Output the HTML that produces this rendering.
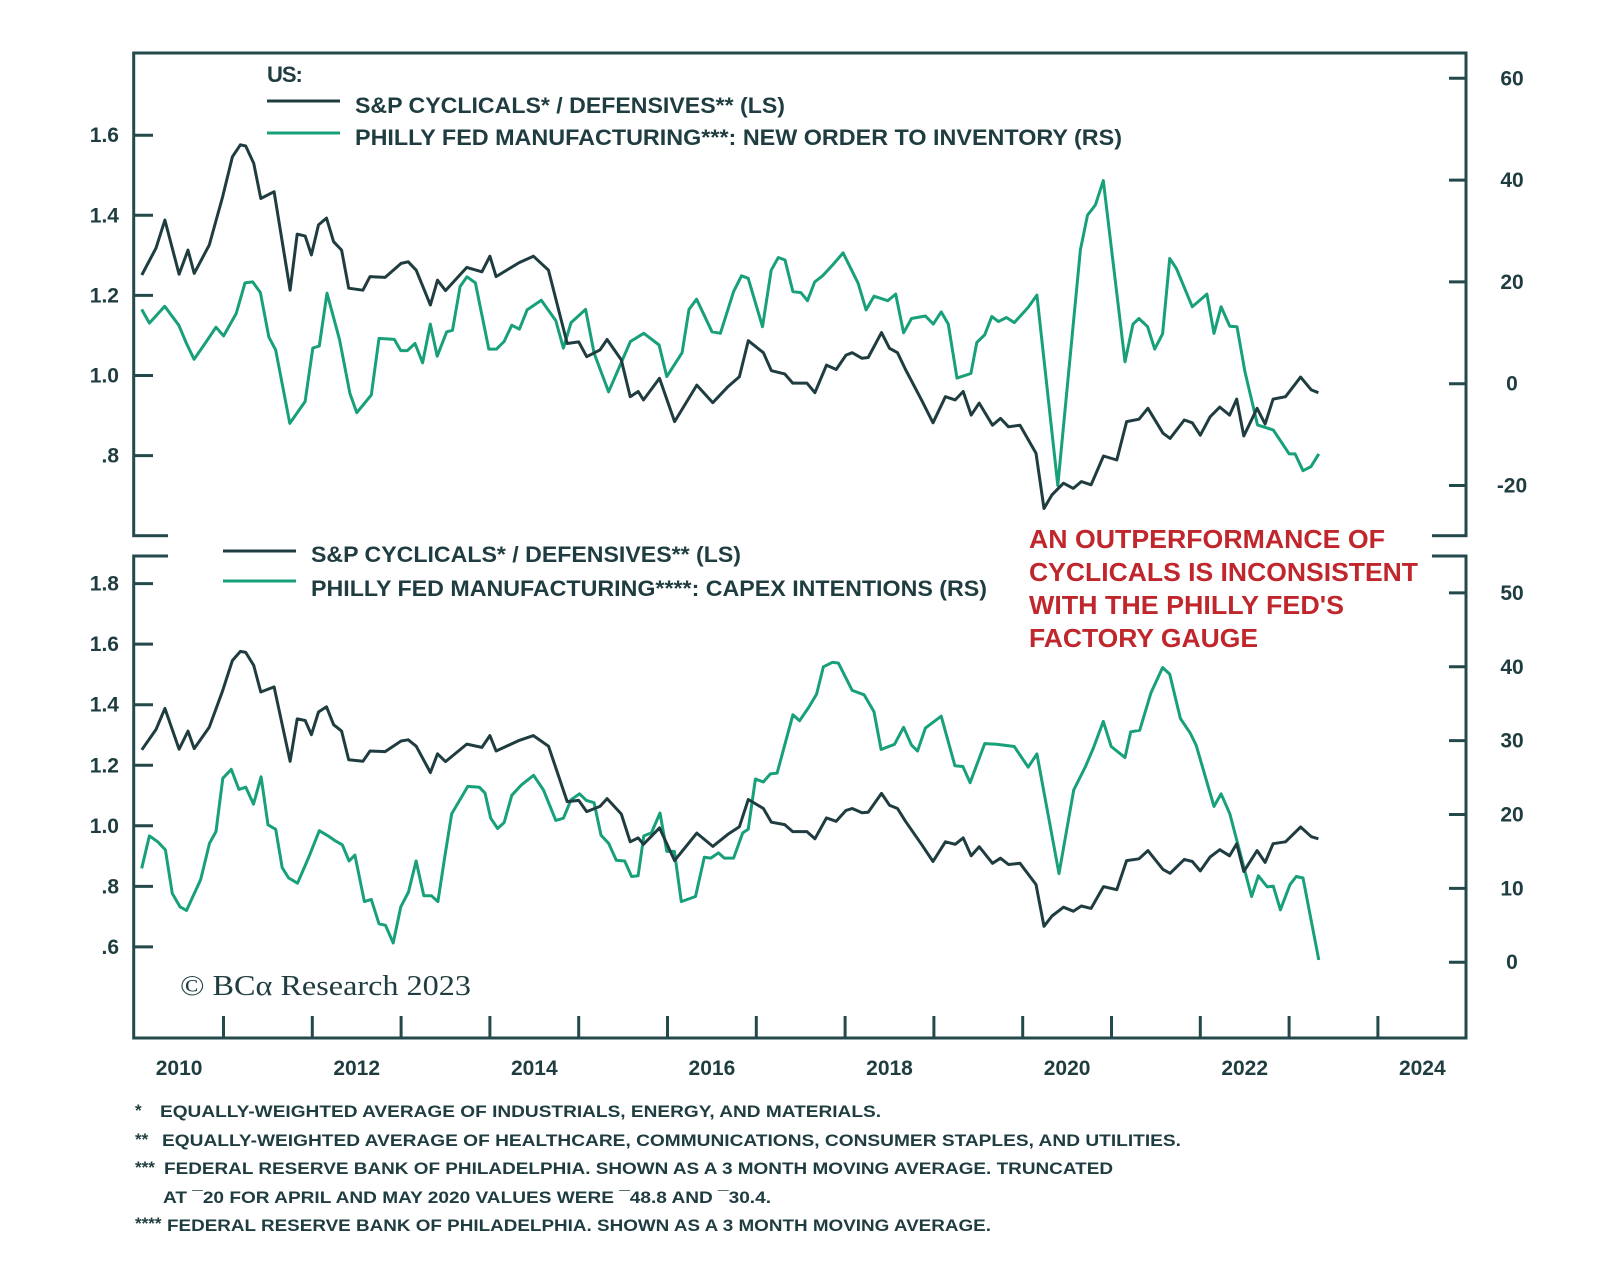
<!DOCTYPE html>
<html><head><meta charset="utf-8"><style>
html,body{margin:0;padding:0;background:#fff;}
svg{display:block;font-family:"Liberation Sans",sans-serif;}
</style></head><body>
<svg id="chart" width="1600" height="1268" viewBox="0 0 1600 1268" xmlns="http://www.w3.org/2000/svg"></svg>
<script>
// ---------- DATA ----------
const cycYears=[2010.08,2010.24,2010.34,2010.50,2010.60,2010.67,2010.84,2010.99,2011.10,2011.19,2011.25,2011.34,2011.42,2011.57,2011.75,2011.83,2011.92,2011.99,2012.07,2012.16,2012.24,2012.33,2012.41,2012.57,2012.65,2012.82,2013.00,2013.08,2013.17,2013.33,2013.41,2013.50,2013.74,2013.91,2014.00,2014.07,2014.33,2014.49,2014.66,2014.87,2015.00,2015.09,2015.24,2015.32,2015.48,2015.58,2015.67,2015.73,2015.91,2016.08,2016.33,2016.51,2016.68,2016.81,2016.91,2017.08,2017.17,2017.32,2017.41,2017.57,2017.66,2017.79,2017.90,2018.01,2018.08,2018.19,2018.26,2018.41,2018.50,2018.59,2018.68,2018.86,2018.99,2019.13,2019.24,2019.33,2019.42,2019.51,2019.66,2019.75,2019.84,2019.97,2020.15,2020.24,2020.33,2020.46,2020.57,2020.66,2020.77,2020.91,2021.06,2021.17,2021.31,2021.41,2021.58,2021.66,2021.82,2021.91,2022.00,2022.11,2022.22,2022.33,2022.41,2022.49,2022.64,2022.73,2022.82,2022.96,2023.13,2023.25,2023.33];
const cycValues=[1.251,1.318,1.388,1.253,1.313,1.255,1.326,1.446,1.546,1.576,1.573,1.530,1.442,1.459,1.213,1.353,1.348,1.301,1.376,1.393,1.334,1.313,1.218,1.213,1.247,1.245,1.280,1.284,1.263,1.176,1.238,1.212,1.270,1.259,1.298,1.247,1.282,1.298,1.263,1.080,1.084,1.047,1.064,1.090,1.039,0.947,0.960,0.939,0.993,0.885,0.976,0.932,0.972,0.997,1.087,1.057,1.012,1.004,0.981,0.981,0.957,1.026,1.015,1.051,1.057,1.043,1.045,1.107,1.068,1.057,1.015,0.939,0.882,0.947,0.939,0.960,0.901,0.931,0.876,0.893,0.872,0.876,0.806,0.668,0.702,0.731,0.718,0.735,0.727,0.799,0.789,0.885,0.891,0.918,0.856,0.843,0.889,0.882,0.851,0.897,0.921,0.901,0.941,0.849,0.918,0.879,0.941,0.947,0.996,0.964,0.957];

const noiYears=[2010.079,2010.166,2010.338,2010.497,2010.583,2010.669,2010.820,2010.916,2011.001,2011.143,2011.242,2011.329,2011.416,2011.510,2011.588,2011.747,2011.919,2012.006,2012.079,2012.166,2012.307,2012.423,2012.501,2012.664,2012.751,2012.923,2012.997,2013.070,2013.157,2013.242,2013.329,2013.407,2013.514,2013.579,2013.664,2013.742,2013.837,2013.988,2014.074,2014.160,2014.247,2014.332,2014.419,2014.579,2014.742,2014.828,2014.914,2015.078,2015.173,2015.337,2015.582,2015.733,2015.905,2015.992,2016.164,2016.242,2016.328,2016.501,2016.596,2016.744,2016.833,2016.909,2017.070,2017.168,2017.248,2017.323,2017.412,2017.501,2017.577,2017.658,2017.747,2017.858,2017.978,2018.148,2018.236,2018.325,2018.481,2018.570,2018.659,2018.748,2018.904,2018.993,2019.082,2019.162,2019.260,2019.417,2019.483,2019.572,2019.652,2019.727,2019.816,2019.905,2020.062,2020.160,2020.395,2020.650,2020.730,2020.819,2020.908,2021.152,2021.242,2021.309,2021.407,2021.486,2021.575,2021.655,2021.732,2021.910,2022.074,2022.154,2022.234,2022.332,2022.413,2022.502,2022.644,2022.822,2023.001,2023.068,2023.157,2023.245,2023.334];
const noiValues=[14.6,11.9,15.2,11.5,7.9,4.8,8.6,11.1,9.4,13.8,19.8,20.0,17.9,9.2,6.6,-7.8,-3.5,7.0,7.4,17.8,8.6,-1.9,-5.7,-2.2,8.9,8.7,6.5,6.5,7.9,4.1,11.7,5.4,10.2,10.5,19.1,21.0,19.8,6.8,6.8,8.3,11.5,10.7,14.5,16.4,12.4,7.0,12.0,14.6,6.0,-1.6,8.3,9.9,7.6,1.4,6.1,14.6,16.6,10.2,9.9,18.1,21.2,20.7,11.2,22.3,24.8,24.3,18.1,17.9,16.3,20.0,21.2,23.3,25.7,19.7,14.5,17.2,16.3,17.6,10.0,12.8,13.3,11.7,14.1,11.7,1.1,2.0,8.1,9.6,13.2,12.2,13.0,12.0,15.0,17.4,-20,26.3,33.1,35.1,39.9,4.3,11.7,12.8,11.2,6.8,9.8,24.6,22.6,15.1,17.6,9.9,15.1,11.3,11.2,2.4,-8.1,-9.1,-13.8,-13.8,-17.1,-16.3,-13.8];

const capexYears=[2010.079,2010.166,2010.260,2010.346,2010.423,2010.510,2010.583,2010.743,2010.842,2010.916,2010.992,2011.088,2011.173,2011.251,2011.338,2011.423,2011.501,2011.588,2011.661,2011.734,2011.833,2011.963,2012.079,2012.178,2012.264,2012.338,2012.414,2012.480,2012.587,2012.664,2012.751,2012.824,2012.911,2012.997,2013.083,2013.169,2013.256,2013.341,2013.414,2013.492,2013.570,2013.751,2013.881,2013.945,2014.009,2014.087,2014.160,2014.247,2014.355,2014.492,2014.604,2014.742,2014.828,2014.914,2015.009,2015.087,2015.173,2015.251,2015.337,2015.423,2015.518,2015.596,2015.669,2015.733,2015.819,2015.915,2015.992,2016.078,2016.155,2016.315,2016.414,2016.488,2016.574,2016.640,2016.744,2016.847,2016.909,2016.990,2017.079,2017.159,2017.234,2017.412,2017.488,2017.590,2017.679,2017.756,2017.858,2017.925,2018.080,2018.214,2018.325,2018.405,2018.556,2018.659,2018.748,2018.815,2018.904,2019.082,2019.237,2019.327,2019.408,2019.572,2019.706,2019.905,2020.062,2020.160,2020.409,2020.574,2020.707,2020.796,2020.908,2020.997,2021.152,2021.216,2021.318,2021.443,2021.575,2021.655,2021.776,2021.887,2021.953,2022.154,2022.234,2022.332,2022.578,2022.654,2022.755,2022.822,2022.902,2023.010,2023.081,2023.157,2023.334];
const capexValues=[12.7,17.1,16.3,15.2,9.3,7.5,7.0,11.2,16.1,17.7,24.9,26.1,23.4,23.7,21.4,25.1,18.6,18.0,12.8,11.4,10.7,14.3,17.8,17.1,16.4,15.9,13.7,14.5,8.2,8.5,5.2,5.0,2.6,7.5,9.5,13.7,9.0,9.0,8.2,14.3,20.1,23.8,23.7,22.9,19.5,18.1,18.9,22.6,24.0,25.3,23.3,19.2,19.5,22.0,22.8,21.9,21.6,17.2,16.1,13.8,13.7,11.6,11.7,17.1,17.5,20.2,15.0,15.0,8.2,8.9,14.2,14.1,14.8,14.1,14.1,17.5,18.0,24.8,24.4,25.5,25.6,33.5,32.7,34.5,36.3,40.0,40.6,40.5,36.8,36.2,33.9,28.8,29.5,31.8,29.4,28.6,31.7,33.3,26.6,26.5,24.3,29.6,29.5,29.2,26.4,28.2,12.0,23.3,26.5,29.0,32.6,29.2,27.7,31.2,31.4,36.4,39.9,39.0,33.0,31.0,29.4,21.1,22.8,20.1,8.9,11.7,10.2,10.3,7.1,10.5,11.6,11.4,0.3];

const xTickLabels=["2010","2012","2014","2016","2018","2020","2022","2024"];
const topLeftTicks=[".8","1.0","1.2","1.4","1.6"];
const topLeftTickVals=[0.8,1.0,1.2,1.4,1.6];
const topRightTickVals=[-20,0,20,40,60];
const botLeftTicks=[".6",".8","1.0","1.2","1.4","1.6","1.8"];
const botLeftTickVals=[0.6,0.8,1.0,1.2,1.4,1.6,1.8];
const botRightTickVals=[0,10,20,30,40,50];

// ---------- SCALES ----------
const X=t=>134.7+(t-2010)*88.8;
const yTL=v=>375.5-(v-1)*400.5;
const yTR=r=>383.7-r*5.09;
const yBL=v=>825.8-(v-1)*302.7;
const yBR=r=>962.2-r*7.386;

const NS="http://www.w3.org/2000/svg";
const svg=document.getElementById('chart');
const DARK="#1f3d40", GREEN="#17a07a", FRAME="#24494b";
function el(tag,attrs,parent){const e=document.createElementNS(NS,tag);for(const k in attrs)e.setAttribute(k,attrs[k]);(parent||svg).appendChild(e);return e;}
function txt(s,attrs,parent){const e=el('text',attrs,parent);e.textContent=s;return e;}

// frames
let g=el('g',{});


let r=el('rect',{x:133.7,y:53,width:1332.3,height:482.7,fill:'none',stroke:FRAME,'stroke-width':3},g);


let g2=el('g',{});


r=el('rect',{x:133.7,y:556,width:1332.3,height:482,fill:'none',stroke:FRAME,'stroke-width':3},g2);


// gap cover between panels
r=el('rect',{x:168,y:530,width:1264,height:32,fill:'#fff'});



// axis ticks & labels
function yTicks(vals,labels,fy,side,parent,name){
  vals.forEach((v,i)=>{
    const y=fy(v);
    let l;
    if(side==='L'){l=el('line',{x1:133.7,x2:153,y1:y,y2:y,stroke:FRAME,'stroke-width':3},parent);
      const t=txt(labels[i],{x:119,y:y+7,'text-anchor':'end','font-size':21,'font-weight':'bold',fill:DARK},parent);
      
      }
    else{l=el('line',{x1:1449,x2:1466,y1:y,y2:y,stroke:FRAME,'stroke-width':3},parent);
      const t=txt(labels[i],{x:1512,y:y+7,'text-anchor':'middle','font-size':21,'font-weight':'bold',fill:DARK},parent);
      
      }
    
    
  });
}
yTicks(topLeftTickVals,topLeftTicks,yTL,'L',g,'top-left-axis');
yTicks(topRightTickVals,topRightTickVals.map(String),yTR,'R',g,'top-right-axis');
yTicks(botLeftTickVals,botLeftTicks,yBL,'L',g2,'bottom-left-axis');
yTicks(botRightTickVals,botRightTickVals.map(String),yBR,'R',g2,'bottom-right-axis');

// x ticks
for(let yr=2011;yr<=2024;yr++){
  const l=el('line',{x1:X(yr),x2:X(yr),y1:1038,y2:1016,stroke:FRAME,'stroke-width':3},g2);
  
  
}
xTickLabels.forEach(s=>{
  const t=txt(s,{x:X(+s+0.5),y:1075,'text-anchor':'middle','font-size':21,'font-weight':'bold',fill:DARK});
  
  
});

// series
function line(years,vals,fx,fy,color,parent,name){
  const d=years.map((t,i)=>(i?'L':'M')+fx(t).toFixed(1)+','+fy(vals[i]).toFixed(1)).join('');
  const p=el('path',{d:d,fill:'none',stroke:color,'stroke-width':3,'stroke-linejoin':'round'},parent);
  
  
}
line(noiYears,noiValues,X,yTR,GREEN,g,'philly-new-orders-inventory-line');
line(cycYears,cycValues,X,yTL,DARK,g,'cyclicals-defensives-line-top');
line(capexYears,capexValues,X,yBR,GREEN,g2,'philly-capex-line');
line(cycYears,cycValues,X,yBL,DARK,g2,'cyclicals-defensives-line-bottom');
</script>
<svg style="position:absolute;left:0;top:0" width="1600" height="1268" viewBox="0 0 1600 1268">
 <g font-family="Liberation Sans, sans-serif" font-weight="bold" fill="#1f3d40" font-size="22">
  <text x="267" y="82" letter-spacing="-1">US:</text>
  <line x1="267" x2="340" y1="101" y2="101" stroke="#1f3d40" stroke-width="3"/>
  <text x="355" y="113" textLength="430" lengthAdjust="spacingAndGlyphs">S&amp;P CYCLICALS* / DEFENSIVES** (LS)</text>
  <line x1="267" x2="340" y1="133" y2="133" stroke="#17a07a" stroke-width="3"/>
  <text x="355" y="145" textLength="767" lengthAdjust="spacingAndGlyphs">PHILLY FED MANUFACTURING***: NEW ORDER TO INVENTORY (RS)</text>
  <line x1="223" x2="296" y1="551" y2="551" stroke="#1f3d40" stroke-width="3"/>
  <text x="311" y="562" textLength="430" lengthAdjust="spacingAndGlyphs">S&amp;P CYCLICALS* / DEFENSIVES** (LS)</text>
  <line x1="223" x2="296" y1="581" y2="581" stroke="#17a07a" stroke-width="3"/>
  <text x="311" y="596" textLength="676" lengthAdjust="spacingAndGlyphs">PHILLY FED MANUFACTURING****: CAPEX INTENTIONS (RS)</text>
 </g>
 <g font-family="Liberation Sans, sans-serif" font-weight="bold" fill="#c0272d" font-size="26">
  <text x="1029" y="548" textLength="356" lengthAdjust="spacingAndGlyphs">AN OUTPERFORMANCE OF</text>
  <text x="1029" y="581" textLength="389" lengthAdjust="spacingAndGlyphs">CYCLICALS IS INCONSISTENT</text>
  <text x="1029" y="614" textLength="315" lengthAdjust="spacingAndGlyphs">WITH THE PHILLY FED'S</text>
  <text x="1029" y="647" textLength="229" lengthAdjust="spacingAndGlyphs">FACTORY GAUGE</text>
 </g>
 <text x="180" y="995" font-family="Liberation Serif, serif" font-size="28" fill="#1f3d40" textLength="291" lengthAdjust="spacingAndGlyphs">© BCα Research 2023</text>
 <g font-family="Liberation Sans, sans-serif" font-weight="bold" fill="#1f3d40" font-size="17">
  <text x="135" y="1116">*</text>
  <text x="160" y="1117" textLength="721" lengthAdjust="spacingAndGlyphs">EQUALLY-WEIGHTED AVERAGE OF INDUSTRIALS, ENERGY, AND MATERIALS.</text>
  <text x="135" y="1145">**</text>
  <text x="162" y="1146" textLength="1019" lengthAdjust="spacingAndGlyphs">EQUALLY-WEIGHTED AVERAGE OF HEALTHCARE, COMMUNICATIONS, CONSUMER STAPLES, AND UTILITIES.</text>
  <text x="135" y="1173">***</text>
  <text x="164" y="1174" textLength="949" lengthAdjust="spacingAndGlyphs">FEDERAL RESERVE BANK OF PHILADELPHIA. SHOWN AS A 3 MONTH MOVING AVERAGE. TRUNCATED</text>
  <text x="163" y="1203" textLength="608" lengthAdjust="spacingAndGlyphs">AT ¯20 FOR APRIL AND MAY 2020 VALUES WERE ¯48.8 AND ¯30.4.</text>
  <text x="135" y="1229">****</text>
  <text x="167" y="1231" textLength="824" lengthAdjust="spacingAndGlyphs">FEDERAL RESERVE BANK OF PHILADELPHIA. SHOWN AS A 3 MONTH MOVING AVERAGE.</text>
 </g>
</svg>
</body></html>
